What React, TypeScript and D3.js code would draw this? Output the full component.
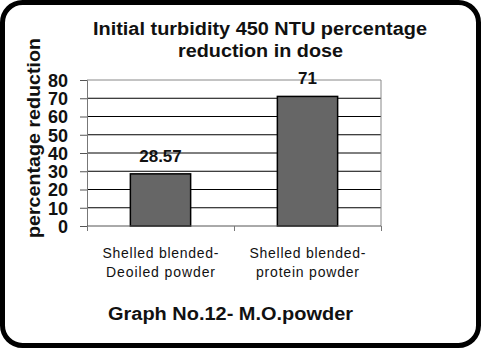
import React, { useEffect, useRef } from 'react';
import * as d3 from 'd3';

const categories = [
  ['Shelled blended-', 'Deoiled powder'],
  ['Shelled blended-', 'protein powder'],
];
const values = [28.57, 71];
const valueLabels = ['28.57', '71'];
const yTicks = [0, 10, 20, 30, 40, 50, 60, 70, 80];

const App: React.FC = () => {
  const svgRef = useRef<SVGSVGElement>(null);

  useEffect(() => {
    if (!svgRef.current) return;
    const svg = d3.select(svgRef.current);
    svg.selectAll('*').remove();

    const width = 481;
    const height = 348;
    const font = '"Liberation Sans", Arial, sans-serif';

    // outer frame
    svg.append('rect')
      .attr('x', 2.5).attr('y', 2.5)
      .attr('width', width - 5).attr('height', height - 5)
      .attr('rx', 20).attr('ry', 20)
      .attr('fill', '#fff')
      .attr('stroke', '#000')
      .attr('stroke-width', 5);

    const plot = { left: 87, right: 381, top: 80, bottom: 226 };

    const x = d3.scaleBand<number>()
      .domain(d3.range(categories.length))
      .range([plot.left, plot.right])
      .paddingInner(0.59)
      .paddingOuter(0.295);

    const y = d3.scaleLinear().domain([0, 80]).range([plot.bottom, plot.top]);

    const boldText = (txt: string, cx: number, by: number, len: number) =>
      svg.append('text')
        .attr('x', cx).attr('y', by)
        .attr('text-anchor', 'middle')
        .attr('font-family', font)
        .attr('font-size', 18)
        .attr('font-weight', 'bold')
        .attr('fill', '#111')
        .attr('textLength', len)
        .attr('lengthAdjust', 'spacingAndGlyphs')
        .text(txt);

    // title
    boldText('Initial turbidity 450 NTU percentage', 260, 35, 334);
    boldText('reduction in dose', 260.5, 57, 165);

    // gridlines
    svg.append('g')
      .selectAll('line')
      .data(yTicks.filter(t => t > 0 && t < 80))
      .join('line')
      .attr('x1', plot.left).attr('x2', plot.right)
      .attr('y1', d => y(d)).attr('y2', d => y(d))
      .attr('stroke', '#000')
      .attr('stroke-width', 1);

    // plot border (top/right)
    svg.append('path')
      .attr('d', `M${plot.left},${plot.top}H${plot.right}V${plot.bottom}`)
      .attr('fill', 'none')
      .attr('stroke', '#888')
      .attr('stroke-width', 1);

    // bars
    svg.append('g')
      .selectAll('rect')
      .data(values)
      .join('rect')
      .attr('x', (_, i) => x(i)!)
      .attr('width', x.bandwidth())
      .attr('y', d => y(d))
      .attr('height', d => y(0) - y(d))
      .attr('fill', '#666')
      .attr('stroke', '#000')
      .attr('stroke-width', 1.5);

    // y axis
    const yAxis = svg.append('g')
      .attr('transform', `translate(${plot.left},0)`)
      .call(d3.axisLeft(y).tickValues(yTicks).tickSize(7).tickPadding(12).tickFormat(d3.format('d')));
    yAxis.select('.domain').attr('stroke', '#777');
    yAxis.selectAll('.tick line').attr('stroke', '#555');
    yAxis.selectAll('text')
      .attr('font-family', font)
      .attr('font-size', 18)
      .attr('font-weight', 'bold')
      .attr('fill', '#111')
      .attr('dy', '0.36em');

    // x axis
    const xDivs = d3.scaleLinear().domain([0, categories.length]).range([plot.left, plot.right]);
    const xAxis = svg.append('g')
      .attr('transform', `translate(0,${plot.bottom})`)
      .call(d3.axisBottom(xDivs).tickValues(d3.range(categories.length + 1)).tickSize(5).tickFormat(() => ''));
    xAxis.select('.domain').attr('stroke', '#555').attr('d', `M${plot.left},0H${plot.right}`);
    xAxis.selectAll('.tick line').attr('stroke', '#777');

    // category labels
    const catLens = [[116, 109], [116, 103]];
    categories.forEach((lines, i) => {
      const cx = x(i)! + x.bandwidth() / 2;
      lines.forEach((l, j) => {
        svg.append('text')
          .attr('x', cx).attr('y', 258 + j * 19)
          .attr('text-anchor', 'middle')
          .attr('font-family', font)
          .attr('font-size', 14)
          .attr('fill', '#111')
          .attr('textLength', catLens[i][j])
          .attr('lengthAdjust', 'spacing')
          .text(l);
      });
    });

    // value labels
    svg.append('g')
      .selectAll('text')
      .data(values)
      .join('text')
      .attr('x', (_, i) => x(i)! + x.bandwidth() / 2)
      .attr('y', d => y(d) - 12)
      .attr('text-anchor', 'middle')
      .attr('font-family', font)
      .attr('font-size', 17)
      .attr('font-weight', 'bold')
      .attr('fill', '#111')
      .text((_, i) => valueLabels[i]);

    // y label
    svg.append('text')
      .attr('transform', `translate(40,138) rotate(-90)`)
      .attr('text-anchor', 'middle')
      .attr('font-family', font)
      .attr('font-size', 18)
      .attr('font-weight', 'bold')
      .attr('fill', '#111')
      .attr('textLength', 200)
      .attr('lengthAdjust', 'spacingAndGlyphs')
      .text('percentage reduction');

    // footer
    boldText('Graph No.12- M.O.powder', 230.5, 320, 245);
  }, []);

  return (
    <svg
      ref={svgRef}
      width={481}
      height={348}
      style={{ position: 'absolute', left: 0, top: 0, display: 'block' }}
    />
  );
};

export default App;
